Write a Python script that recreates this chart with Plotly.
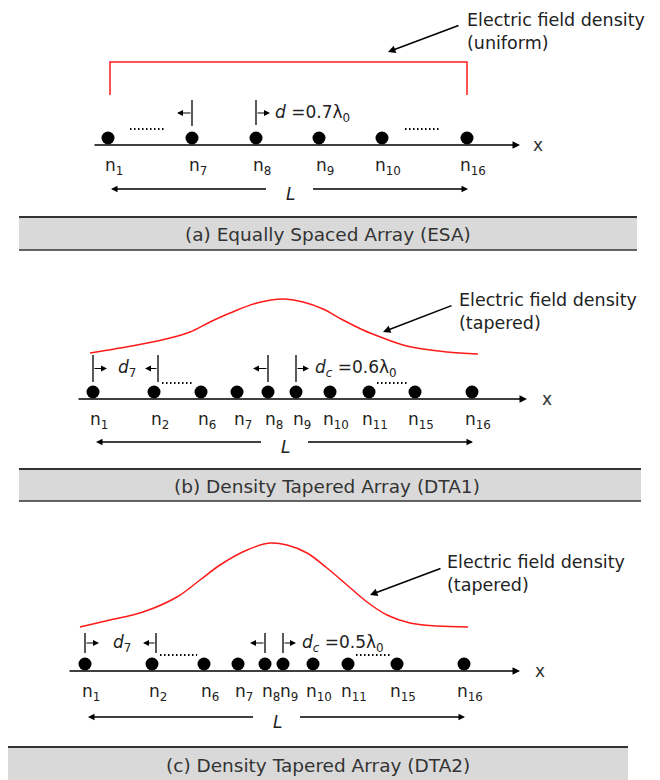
import plotly.graph_objects as go

FONT = "DejaVu Sans"
OFF = 8  # page body margin of the html page

# ---------------- data (diagram coordinates, pixels, y downward) ----------------
axis_y = [145, 399, 671]                       # baseline of each array
axis_x0 = [93, 77, 68]
axis_x1 = [520, 527, 520]
x_label_pos = [531, 540, 533]

esa_x = [108, 192, 256, 319, 382, 467]
esa_labels = ["n<sub>1</sub>", "n<sub>7</sub>", "n<sub>8</sub>", "n<sub>9</sub>",
              "n<sub>10</sub>", "n<sub>16</sub>"]

dta1_x = [93, 154, 201, 237, 268, 296, 330, 369, 415, 472]
dta2_x = [85, 152, 204, 238, 265, 283, 313, 348, 397, 464]
dta_labels = ["n<sub>1</sub>", "n<sub>2</sub>", "n<sub>6</sub>", "n<sub>7</sub>",
              "n<sub>8</sub>", "n<sub>9</sub>", "n<sub>10</sub>", "n<sub>11</sub>",
              "n<sub>15</sub>", "n<sub>16</sub>"]

# uniform field density bracket (panel a)
uni_x = [110, 110, 467, 467]
uni_y = [95, 62, 62, 95]

# tapered field density curves
taper1_x = [90, 137, 170, 190, 210, 230, 257, 283, 303, 323, 343, 363, 383, 403, 423, 447, 478]
taper1_y = [353, 345, 338, 332, 322, 313, 303, 299, 302, 309, 320, 330, 338, 345, 349, 352, 354]
taper2_x = [80, 110, 143, 177, 200, 220, 247, 270, 287, 307, 327, 347, 367, 387, 410, 437, 468]
taper2_y = [627, 620, 612, 597, 580, 565, 550, 543, 545, 553, 568, 585, 602, 615, 623, 626, 627]

field_text = ["Electric field density<br>(uniform)",
              "Electric field density<br>(tapered)",
              "Electric field density<br>(tapered)"]
field_text_pos = [(465, 31), (457, 311), (445, 573)]
field_arrow = [((460, 25), (388, 52)), ((453, 305), (383, 332)), ((442, 568), (370, 595))]

spacing_text = ["<i>d</i> =0.7λ<sub>0</sub>", "<i>d</i><sub><i>c</i></sub> =0.6λ<sub>0</sub>",
                "<i>d</i><sub><i>c</i></sub> =0.5λ<sub>0</sub>"]
d7_text = "<i>d</i><sub>7</sub>"

captions = ["(a) Equally Spaced Array (ESA)",
            "(b) Density Tapered Array (DTA1)",
            "(c) Density Tapered Array (DTA2)"]
caption_box = [(19, 637, 217, 250), (19, 641, 469, 501), (0, 628, 747, 785)]
caption_center = [328, 327, 318]
caption_y = [234, 486, 765]

L_y = [189, 442, 717]

# ---------------- figure ----------------
fig = go.Figure()
shapes = []
ann = []


def line(x0, y0, x1, y1, color="black", width=1.5, dash=None):
    d = dict(type="line", x0=x0, y0=y0, x1=x1, y1=y1, xref="x", yref="y",
             line=dict(color=color, width=width))
    if dash:
        d["line"]["dash"] = dash
    shapes.append(d)


def arrow(xt, yt, xh, yh, width=1.5, size=1.0, head=2):
    ann.append(dict(x=xh, y=yh, ax=xt, ay=yt, xref="x", yref="y", axref="x", ayref="y",
                    text="", showarrow=True, arrowhead=head, arrowsize=size,
                    arrowwidth=width, arrowcolor="black"))


def text(x, y, s, size=17, xanchor="center", color="#222", align="left"):
    ann.append(dict(x=x, y=y, xref="x", yref="y", text=s, showarrow=False,
                    xanchor=xanchor, yanchor="middle", align=align,
                    font=dict(family=FONT, size=size, color=color)))


# caption boxes
for (x0, x1, y0, y1), cap, cx, cy in zip(caption_box, captions, caption_center, caption_y):
    shapes.append(dict(type="rect", x0=x0, x1=x1, y0=y0, y1=y1, xref="x", yref="y",
                       fillcolor="#d9d9d9", line=dict(width=0), layer="below"))
    line(x0, y0, x1, y0, color="#333", width=2)
    line(x0, y1, x1, y1, color="#333", width=1.5)
    text(cx, cy, cap, size=18.5, color="#333")

# axes with arrowheads and x labels
for ay, x0, x1, xl in zip(axis_y, axis_x0, axis_x1, x_label_pos):
    arrow(x0, ay, x1, ay, width=1.5, size=1.0)
    text(xl, ay, "x", size=17, xanchor="left", color="#333")

# elements
all_x = [esa_x, dta1_x, dta2_x]
all_lab = [esa_labels, dta_labels, dta_labels]
for i, (xs, labs, ay) in enumerate(zip(all_x, all_lab, axis_y)):
    fig.add_trace(go.Scatter(x=xs, y=[ay - 7] * len(xs), mode="markers",
                             marker=dict(size=13, color="black"), hoverinfo="skip"))
    for xv, lb in zip(xs, labs):
        text(xv + 6, ay + 21, lb, size=17, color="#222")
    # L span arrows
    ly = L_y[i]
    mid = (xs[0] + xs[-1]) / 2
    arrow(mid - 20, ly, xs[0] + 3, ly, width=1.3)
    arrow(mid + 24, ly, xs[-1] + 1, ly, width=1.3)
    text(mid + 3, ly + 5, "<i>L</i>", size=17)

# field density curves
fig.add_trace(go.Scatter(x=uni_x, y=uni_y, mode="lines",
                         line=dict(color="#ff1a1a", width=1.5), hoverinfo="skip"))
for tx, ty in [(taper1_x, taper1_y), (taper2_x, taper2_y)]:
    fig.add_trace(go.Scatter(x=tx, y=ty, mode="lines",
                             line=dict(color="#ff1a1a", width=1.5, shape="spline", smoothing=1.0),
                             hoverinfo="skip"))

for s, (tx, ty), (tail, head) in zip(field_text, field_text_pos, field_arrow):
    text(tx, ty, s, size=17.5, xanchor="left", color="#222")
    arrow(tail[0], tail[1], head[0], head[1], width=1.5)

# dotted gaps
DOT = "1.5px,2.5px"
dots_a = [(130, 165), (405, 440)]
for x0, x1 in dots_a:
    line(x0, axis_y[0] - 16, x1, axis_y[0] - 16, width=2, dash=DOT)
for xs, ay in [(dta1_x, axis_y[1]), (dta2_x, axis_y[2])]:
    line(xs[1] + 8, ay - 16, xs[2] - 7, ay - 16, width=2, dash=DOT)
    line(xs[7] + 8, ay - 16, xs[8] - 7, ay - 16, width=2, dash=DOT)

# spacing markers - panel a
ay = axis_y[0]
line(esa_x[1], ay - 45, esa_x[1], ay - 19, width=1.3)
line(esa_x[2], ay - 45, esa_x[2], ay - 20, width=1.3)
arrow(esa_x[1], ay - 32, esa_x[1] - 15, ay - 32, width=1.2)
arrow(esa_x[2], ay - 32, esa_x[2] + 14, ay - 32, width=1.2)
text(esa_x[2] + 17, ay - 32, spacing_text[0], size=17, xanchor="left")

# spacing markers - panels b, c
for xs, ay, st, (top, bot) in [(dta1_x, axis_y[1], spacing_text[1], (44, 17)),
                               (dta2_x, axis_y[2], spacing_text[2], (38, 18))]:
    ym = ay - (top + bot) / 2
    t1, t2 = xs[0], xs[1] + 4
    line(t1, ay - top, t1, ay - bot, width=1.3)
    line(t2, ay - top, t2, ay - bot, width=1.3)
    arrow(t1, ym, t1 + 14, ym, width=1.2)
    arrow(t2, ym, t2 - 13, ym, width=1.2)
    text((t1 + t2) / 2 + 1, ym, d7_text, size=17)
    c1, c2 = xs[4], xs[5]
    line(c1, ay - top, c1, ay - bot, width=1.3)
    line(c2, ay - top, c2, ay - bot, width=1.3)
    arrow(c1, ym, c1 - 15, ym, width=1.2)
    arrow(c2, ym, c2 + 13, ym, width=1.2)
    text(c2 + 17, ym, st, size=17, xanchor="left")

fig.update_layout(
    width=660, height=780, margin=dict(l=0, r=0, t=0, b=0),
    paper_bgcolor="white", plot_bgcolor="white", showlegend=False,
    xaxis=dict(range=[OFF, 660 + OFF], visible=False, fixedrange=True),
    yaxis=dict(range=[780 + OFF, OFF], visible=False, fixedrange=True),
    shapes=shapes, annotations=ann,
)
fig.write_html("out.html")
